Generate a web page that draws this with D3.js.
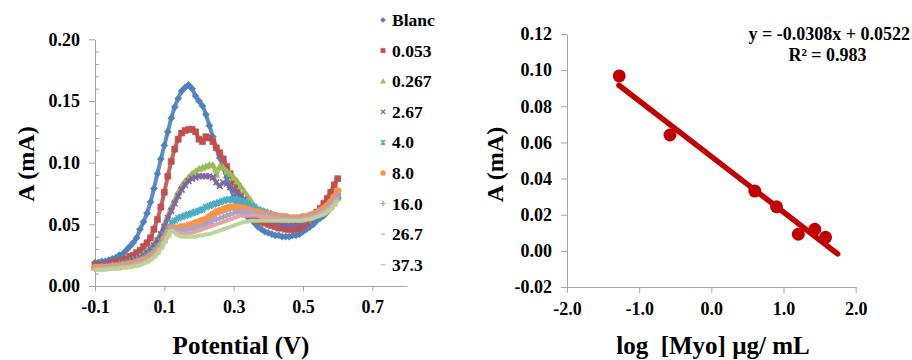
<!DOCTYPE html>
<html><head><meta charset="utf-8">
<script src="https://cdn.jsdelivr.net/npm/d3@7"></script>
<style>body{margin:0;background:#fff;}</style></head><body>
<svg id="chart" width="912" height="360"></svg>
<script>
// ---------- Left panel: voltammograms ----------
const potential = [-0.10,-0.09,-0.08,-0.07,-0.06,-0.05,-0.04,-0.03,-0.02,-0.01,
 0.00,0.01,0.02,0.03,0.04,0.05,0.06,0.07,0.08,0.09,
 0.10,0.11,0.12,0.13,0.14,0.15,0.16,0.17,0.18,0.19,
 0.20,0.21,0.22,0.23,0.24,0.25,0.26,0.27,0.28,0.29,
 0.30,0.31,0.32,0.33,0.34,0.35,0.36,0.37,0.38,0.39,
 0.40,0.41,0.42,0.43,0.44,0.45,0.46,0.47,0.48,0.49,
 0.50,0.51,0.52,0.53,0.54,0.55,0.56,0.57,0.58,0.59,0.60];

const seriesNames = ["Blanc","0.053","0.267","2.67","4.0","8.0","16.0","26.7","37.3"];
const seriesColors = ["#4F81BD","#C0504D","#9BBB59","#8064A2","#4BACC6","#F79646","#ACA2CE","#E3A2A0","#BCD496"];
const seriesMarkers = ["diamond","square","triangle","x","star","circle","plus","dash","dashLong"];

const currentBlanc = [0.019,0.019,0.020,0.020,0.021,0.022,0.023,0.025,0.026,0.029,
 0.032,0.035,0.039,0.046,0.052,0.059,0.068,0.079,0.091,0.103,
 0.114,0.125,0.136,0.145,0.152,0.158,0.161,0.163,0.160,0.154,
 0.150,0.146,0.139,0.130,0.121,0.112,0.104,0.096,0.088,0.080,
 0.072,0.066,0.062,0.059,0.056,0.054,0.051,0.048,0.046,0.044,
 0.043,0.042,0.041,0.041,0.040,0.040,0.040,0.041,0.041,0.042,
 0.044,0.046,0.048,0.050,0.053,0.055,0.057,0.060,0.063,0.067,0.071];
const current0053 = [0.017,0.017,0.017,0.018,0.018,0.019,0.020,0.020,0.021,0.022,
 0.024,0.025,0.027,0.029,0.032,0.035,0.039,0.046,0.054,0.064,
 0.076,0.089,0.101,0.111,0.119,0.124,0.126,0.127,0.127,0.125,
 0.119,0.117,0.121,0.120,0.117,0.112,0.108,0.103,0.097,0.091,
 0.085,0.079,0.073,0.068,0.063,0.059,0.056,0.054,0.052,0.051,
 0.050,0.049,0.048,0.047,0.047,0.046,0.046,0.046,0.046,0.047,
 0.049,0.051,0.054,0.057,0.060,0.063,0.067,0.071,0.076,0.082,0.087];
const current0267 = [0.015,0.015,0.016,0.016,0.016,0.017,0.017,0.018,0.018,0.019,
 0.020,0.021,0.022,0.024,0.026,0.028,0.031,0.034,0.038,0.043,
 0.050,0.057,0.064,0.070,0.076,0.081,0.085,0.088,0.091,0.093,
 0.095,0.096,0.097,0.098,0.098,0.090,0.097,0.096,0.093,0.091,
 0.088,0.085,0.081,0.077,0.073,0.069,0.065,0.062,0.060,0.058,
 0.057,0.056,0.055,0.054,0.054,0.053,0.053,0.053,0.053,0.053,
 0.054,0.055,0.056,0.057,0.058,0.060,0.062,0.064,0.067,0.070,0.074];
const current267 = [0.016,0.016,0.016,0.017,0.017,0.017,0.018,0.018,0.019,0.019,
 0.020,0.021,0.022,0.023,0.025,0.027,0.030,0.033,0.037,0.042,
 0.048,0.055,0.061,0.067,0.073,0.078,0.082,0.085,0.087,0.088,
 0.089,0.089,0.089,0.089,0.088,0.084,0.081,0.084,0.083,0.080,
 0.078,0.075,0.073,0.070,0.067,0.064,0.062,0.059,0.057,0.056,
 0.054,0.053,0.052,0.051,0.050,0.050,0.049,0.049,0.050,0.051,
 0.052,0.054,0.055,0.057,0.058,0.060,0.062,0.064,0.067,0.070,0.073];
const current40 = [0.015,0.015,0.015,0.015,0.016,0.016,0.016,0.017,0.017,0.018,
 0.018,0.019,0.020,0.021,0.022,0.024,0.026,0.029,0.032,0.036,
 0.041,0.046,0.051,0.053,0.055,0.056,0.057,0.058,0.059,0.060,
 0.061,0.062,0.064,0.065,0.066,0.067,0.068,0.069,0.070,0.070,
 0.070,0.070,0.069,0.068,0.067,0.065,0.064,0.062,0.061,0.060,
 0.059,0.058,0.057,0.056,0.056,0.055,0.055,0.055,0.055,0.055,
 0.055,0.056,0.057,0.058,0.059,0.060,0.062,0.064,0.066,0.069,0.072];
const current80 = [0.015,0.015,0.015,0.015,0.015,0.016,0.016,0.016,0.017,0.017,
 0.018,0.018,0.019,0.020,0.021,0.022,0.024,0.026,0.029,0.033,
 0.038,0.043,0.047,0.047,0.047,0.048,0.048,0.049,0.050,0.051,
 0.052,0.053,0.054,0.056,0.058,0.060,0.061,0.062,0.063,0.064,
 0.064,0.064,0.063,0.063,0.062,0.061,0.060,0.060,0.059,0.058,
 0.058,0.057,0.057,0.056,0.056,0.056,0.055,0.055,0.055,0.055,
 0.056,0.056,0.057,0.058,0.059,0.061,0.063,0.065,0.068,0.072,0.077];
const current160 = [0.014,0.014,0.014,0.015,0.015,0.015,0.015,0.016,0.016,0.016,
 0.017,0.017,0.018,0.019,0.020,0.021,0.023,0.025,0.028,0.032,
 0.037,0.042,0.046,0.046,0.045,0.045,0.045,0.046,0.046,0.047,
 0.048,0.049,0.050,0.051,0.053,0.054,0.055,0.056,0.057,0.058,
 0.059,0.060,0.060,0.060,0.060,0.059,0.059,0.058,0.058,0.057,
 0.057,0.056,0.056,0.055,0.055,0.055,0.054,0.054,0.054,0.054,
 0.055,0.055,0.056,0.057,0.058,0.060,0.061,0.063,0.066,0.069,0.073];
const current267b = [0.014,0.014,0.014,0.014,0.014,0.015,0.015,0.015,0.016,0.016,
 0.016,0.017,0.018,0.018,0.019,0.021,0.022,0.024,0.027,0.031,
 0.036,0.041,0.045,0.044,0.043,0.042,0.042,0.043,0.043,0.044,
 0.045,0.046,0.047,0.048,0.049,0.050,0.051,0.052,0.053,0.054,
 0.055,0.056,0.057,0.057,0.057,0.057,0.057,0.057,0.056,0.056,
 0.056,0.055,0.055,0.055,0.054,0.054,0.054,0.054,0.054,0.054,
 0.054,0.055,0.055,0.056,0.057,0.059,0.060,0.062,0.064,0.067,0.071];
const current373 = [0.013,0.013,0.013,0.013,0.014,0.014,0.014,0.014,0.015,0.015,
 0.015,0.016,0.016,0.017,0.018,0.019,0.021,0.023,0.026,0.030,
 0.035,0.040,0.045,0.043,0.041,0.040,0.040,0.040,0.040,0.040,
 0.041,0.041,0.042,0.042,0.043,0.044,0.045,0.046,0.047,0.048,
 0.049,0.050,0.051,0.052,0.052,0.053,0.053,0.053,0.053,0.053,
 0.053,0.053,0.053,0.053,0.053,0.053,0.053,0.053,0.053,0.053,
 0.053,0.054,0.054,0.055,0.056,0.057,0.058,0.060,0.062,0.065,0.069];
const seriesValues = [currentBlanc,current0053,current0267,current267,current40,current80,current160,current267b,current373];

const leftXTicks = [-0.1,0.1,0.3,0.5,0.7];
const leftYTicks = [0.00,0.05,0.10,0.15,0.20];
const leftYMinor = [0.01,0.02,0.03,0.04,0.06,0.07,0.08,0.09,0.11,0.12,0.13,0.14,0.16,0.17,0.18,0.19];

// ---------- Right panel: calibration ----------
const calibLogConc = [-1.276,-0.573,0.602,0.903,1.205,1.433,1.582];
const calibCurrent = [0.0968,0.0641,0.0331,0.0244,0.0092,0.0119,0.0075];
const trendSlope = -0.0308, trendIntercept = 0.0522;
const trendRange = [-1.28, 1.75];
const rightXTicks = [-2,-1,0,1,2];
const rightYTicks = [-0.02,0.00,0.02,0.04,0.06,0.08,0.10,0.12];

const FONT = "Liberation Serif";
const svg = d3.select("#chart");
const axisColor = "#a6a6a6";
const fmt = p => d => d3.format(p)(d).replace("\u2212","-");

function styleAxis(g){
  g.attr("font-family",FONT).attr("font-weight","bold").attr("font-size",18);
  g.selectAll(".domain").attr("stroke",axisColor);
  g.selectAll(".tick line").attr("stroke",axisColor);
  g.selectAll(".tick text").attr("fill","#000");
}
function label(x,y,txt,size,anchor,rot){
  const t = svg.append("text")
    .attr("font-family",FONT).attr("font-weight","bold").attr("font-size",size)
    .attr("text-anchor",anchor).attr("fill","#000");
  if(rot) t.attr("transform",`translate(${x},${y}) rotate(${rot})`);
  else t.attr("x",x).attr("y",y);
  return t.text(txt);
}

// Left scales
const xL = d3.scaleLinear([-0.1,0.8],[95,407]);
const yL = d3.scaleLinear([0,0.2],[286,39.3]);

svg.append("g").attr("transform","translate(95,0)")
  .call(d3.axisRight(yL).tickValues(leftYMinor).tickSize(4).tickFormat(""))
  .call(g=>{g.select(".domain").remove();g.selectAll("line").attr("stroke",axisColor);});
svg.append("g").attr("transform","translate(95,0)")
  .call(d3.axisLeft(yL).tickValues(leftYTicks).tickSize(6).tickSizeOuter(0).tickPadding(9).tickFormat(fmt(".2f")))
  .call(styleAxis);
svg.append("g").attr("transform","translate(0,286)")
  .call(d3.axisBottom(xL).tickValues(leftXTicks).tickSize(5).tickSizeOuter(0).tickPadding(9).tickFormat(fmt(".1f")))
  .call(styleAxis);

function markerPath(type, s){
  switch(type){
    case "diamond": return `M0,${-s}L${s},0L0,${s}L${-s},0Z`;
    case "square": return `M${-s*0.85},${-s*0.85}H${s*0.85}V${s*0.85}H${-s*0.85}Z`;
    case "triangle": return `M0,${-s}L${s},${s*0.8}L${-s},${s*0.8}Z`;
    case "x": return `M${-s*0.8},${-s*0.8}L${s*0.8},${s*0.8}M${-s*0.8},${s*0.8}L${s*0.8},${-s*0.8}`;
    case "star": return `M${-s*0.8},${-s*0.8}L${s*0.8},${s*0.8}M${-s*0.8},${s*0.8}L${s*0.8},${-s*0.8}M0,${-s}L0,${s}`;
    case "circle": return `M${s},0A${s},${s} 0 1,1 ${-s},0A${s},${s} 0 1,1 ${s},0Z`;
    case "plus": return `M${-s},0H${s}M0,${-s}V${s}`;
    case "dash": return `M${-s*0.7},0H${s*0.7}`;
    case "dashLong": return `M${-s},0H${s}`;
  }
}
const filled = {diamond:true,square:true,triangle:true,circle:true};

const plotL = svg.append("g");
seriesValues.forEach((vals,i)=>{
  const pts = potential.map((v,j)=>[v,vals[j]]);
  const col = seriesColors[i];
  plotL.append("path")
    .attr("d", d3.line().x(d=>xL(d[0])).y(d=>yL(d[1])).curve(d3.curveMonotoneX)(pts))
    .attr("fill","none").attr("stroke",col).attr("stroke-width",4).attr("stroke-opacity",0.9);
  const mt = seriesMarkers[i];
  plotL.append("g").selectAll("path").data(pts).join("path")
    .attr("transform",d=>`translate(${xL(d[0])},${yL(d[1])})`)
    .attr("d",markerPath(mt,3.6))
    .attr("fill",filled[mt]?col:"none")
    .attr("stroke",col).attr("stroke-width",filled[mt]?0.5:1.6);
});

// Legend
seriesNames.forEach((name,i)=>{
  const y = 20 + i*30.6;
  const mt = seriesMarkers[i];
  svg.append("path").attr("transform",`translate(383,${y})`)
    .attr("d",markerPath(mt,2.6))
    .attr("fill",filled[mt]?seriesColors[i]:"none")
    .attr("stroke",seriesColors[i]).attr("stroke-width",filled[mt]?0.5:1.3);
  label(392,y+6,name,17.5,"start");
});

label(241,354,"Potential (V)",25,"middle");
label(34,164,"A (mA)",24,"middle",-90);

// Right scales
const xR = d3.scaleLinear([-2,2],[567,855.7]);
const yR = d3.scaleLinear([-0.02,0.12],[287,34]);

svg.append("g").attr("transform","translate(567,0)")
  .call(d3.axisLeft(yR).tickValues(rightYTicks).tickSize(6).tickSizeOuter(0).tickPadding(9).tickFormat(fmt(".2f")))
  .call(styleAxis);
svg.append("g").attr("transform","translate(0,287)")
  .call(d3.axisBottom(xR).tickValues(rightXTicks).tickSize(6).tickSizeOuter(0).tickPadding(9).tickFormat(fmt(".1f")))
  .call(styleAxis);

const red = "#C00000";
svg.append("line")
  .attr("x1",xR(trendRange[0])).attr("y1",yR(trendSlope*trendRange[0]+trendIntercept))
  .attr("x2",xR(trendRange[1])).attr("y2",yR(trendSlope*trendRange[1]+trendIntercept))
  .attr("stroke",red).attr("stroke-width",5.5).attr("stroke-linecap","round");
svg.append("g").selectAll("circle").data(calibLogConc.map((x,i)=>[x,calibCurrent[i]])).join("circle")
  .attr("cx",d=>xR(d[0])).attr("cy",d=>yR(d[1])).attr("r",6.5).attr("fill",red);

label(910,40,"y = -0.0308x + 0.0522",18,"end");
label(827.5,60.5,"R² = 0.983",18,"middle");

label(713,354,"log  [Myo] µg/ mL",25,"middle").attr("xml:space","preserve").style("white-space","pre");
label(503,164.5,"A (mA)",24,"middle",-90);
</script>
</body></html>
